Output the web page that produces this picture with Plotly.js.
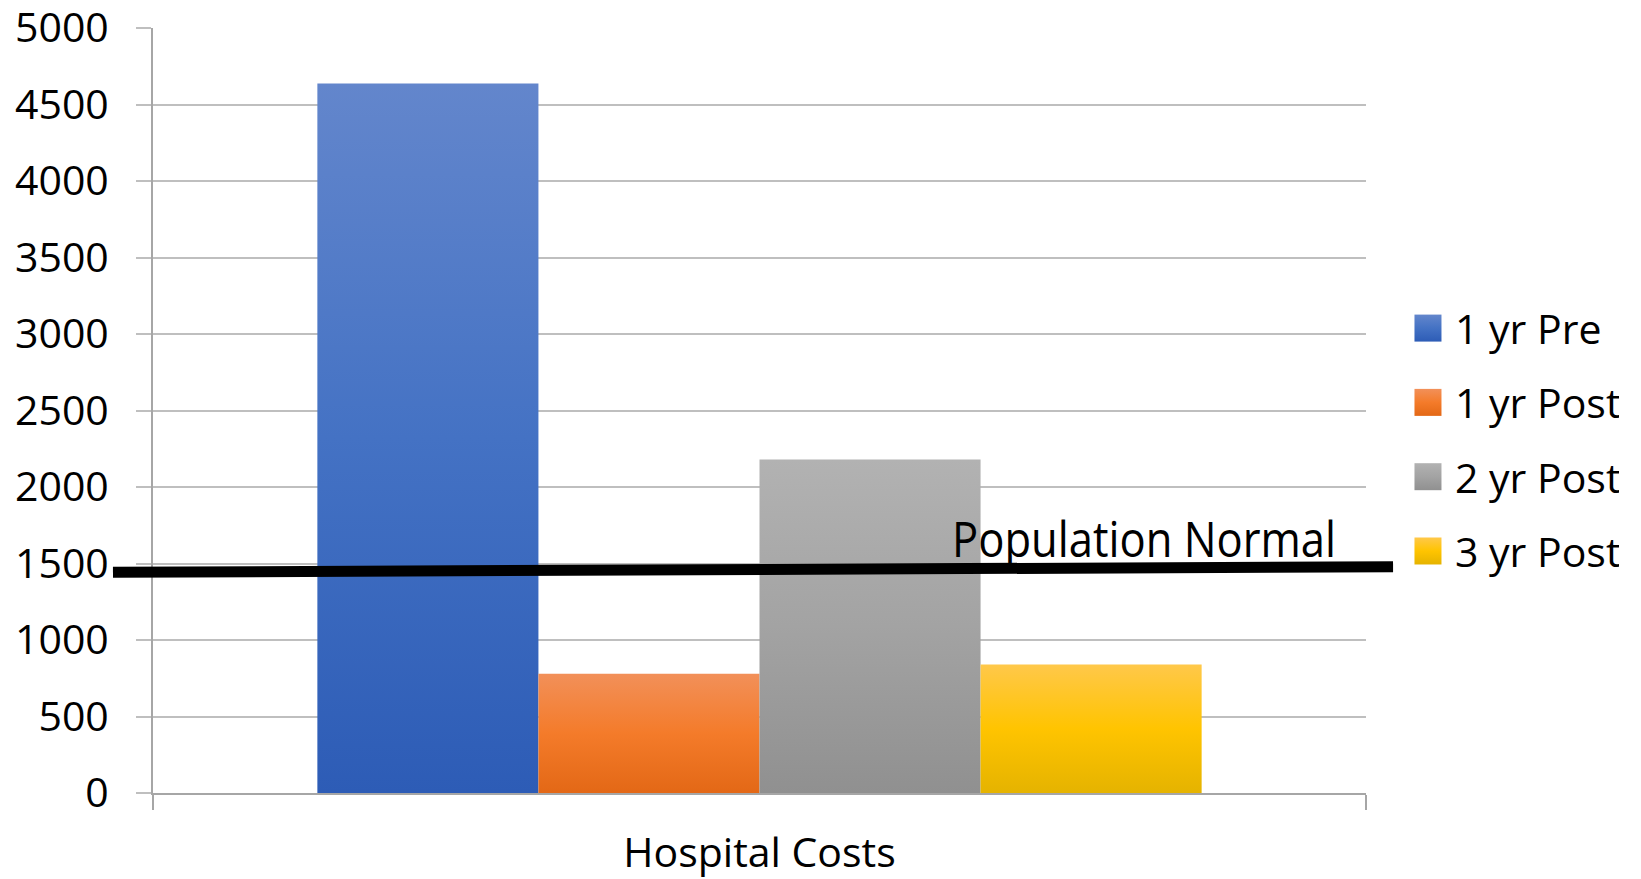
<!DOCTYPE html>
<html>
<head>
<meta charset="utf-8">
<script src="https://cdn.plot.ly/plotly-3.0.1.min.js"></script>
<style>
  html, body { margin: 0; padding: 0; background: #ffffff; }
  #chart { width: 1641px; height: 879px; }
</style>
</head>
<body>
<div id="chart"></div>
<script>
// Hospital costs before and after, compared with the population normal
const categories = ['Hospital Costs'];
const seriesNames = ['1 yr Pre', '1 yr Post', '2 yr Post', '3 yr Post'];
const oneYrPre = [4637];
const oneYrPost = [780];
const twoYrPost = [2180];
const threeYrPost = [840];
const populationNormal = [1442, 1479]; // value at left end, value at right end
const normalLabel = 'Population Normal';
const yTickValues = [0, 500, 1000, 1500, 2000, 2500, 3000, 3500, 4000, 4500, 5000];

const seriesValues = [oneYrPre, oneYrPost, twoYrPost, threeYrPost];
const baseColors = ['#4472C4', '#F47B2A', '#A3A3A3', '#FFC400'];
const gradientStops = [
  ['#6386CC', '#4472C4', '#2D5CB6'],
  ['#F29059', '#F47B2A', '#E36816'],
  ['#B2B2B2', '#A3A3A3', '#909090'],
  ['#FFC84A', '#FFC400', '#E5B300']
];

const FONT = 'Open Sans, Noto Sans, sans-serif';

const traces = seriesNames.map((name, i) => ({
  type: 'bar',
  name: name,
  x: categories,
  y: seriesValues[i],
  legendgroup: 'g' + i,
  marker: { color: baseColors[i], line: { width: 0 } },
  hoverinfo: 'name+y'
}));

const layout = {
  width: 1641,
  height: 879,
  margin: { l: 153, r: 275, t: 28, b: 86, pad: 0 },
  paper_bgcolor: '#ffffff',
  plot_bgcolor: '#ffffff',
  barmode: 'group',
  bargap: 0.271,
  bargroupgap: 0,
  font: { family: FONT, color: '#000000', size: 41 },
  xaxis: {
    type: 'category',
    range: [-0.5, 0.5],
    showgrid: false,
    zeroline: false,
    showline: true,
    linecolor: '#A6A6A6',
    linewidth: 2,
    ticks: 'outside',
    tickson: 'boundaries',
    ticklen: 15,
    tickwidth: 2,
    tickcolor: '#A6A6A6',
    ticklabelstandoff: 23,
    tickfont: { family: FONT, size: 41, color: '#000000' }
  },
  yaxis: {
    range: [0, 5000],
    tickmode: 'array',
    tickvals: yTickValues,
    ticktext: yTickValues.map(String),
    ticklabeloverflow: 'allow',
    showgrid: true,
    gridcolor: '#BFBFBF',
    gridwidth: 1.5,
    zeroline: false,
    showline: true,
    linecolor: '#A6A6A6',
    linewidth: 2,
    ticks: 'outside',
    ticklen: 15,
    tickwidth: 1.5,
    tickcolor: '#BFBFBF',
    ticklabelstandoff: 19,
    tickfont: { family: FONT, size: 41, color: '#000000' }
  },
  showlegend: true,
  legend: {
    xref: 'container',
    yref: 'container',
    x: 0.858,
    xanchor: 'left',
    y: 0.4995,
    yanchor: 'middle',
    tracegroupgap: 18,
    font: { family: FONT, size: 41, color: '#000000' },
    bgcolor: 'rgba(0,0,0,0)',
    borderwidth: 0
  },
  shapes: [{
    type: 'line',
    xref: 'paper',
    yref: 'y',
    x0: -0.033,
    x1: 1.0223,
    y0: populationNormal[0],
    y1: populationNormal[1],
    line: { color: '#000000', width: 11 },
    layer: 'above'
  }],
  annotations: [{
    xref: 'paper',
    yref: 'paper',
    x: 0.817,
    y: 0.333,
    xanchor: 'center',
    yanchor: 'middle',
    text: normalLabel,
    showarrow: false,
    font: { family: FONT, size: 49, color: '#000000' }
  }]
};

function addGradients(gd) {
  const svg = gd.querySelector('svg.main-svg');
  const ns = 'http://www.w3.org/2000/svg';
  let defs = svg.querySelector('defs');
  if (!defs) { defs = document.createElementNS(ns, 'defs'); svg.insertBefore(defs, svg.firstChild); }
  gradientStops.forEach((stops, i) => {
    const g = document.createElementNS(ns, 'linearGradient');
    g.setAttribute('id', 'barfill' + i);
    g.setAttribute('x1', '0'); g.setAttribute('y1', '0');
    g.setAttribute('x2', '0'); g.setAttribute('y2', '1');
    stops.forEach((c, k) => {
      const s = document.createElementNS(ns, 'stop');
      s.setAttribute('offset', String(k / (stops.length - 1)));
      s.setAttribute('stop-color', c);
      g.appendChild(s);
    });
    defs.appendChild(g);
  });
  gd.querySelectorAll('.barlayer .trace').forEach((tr, i) => {
    tr.querySelectorAll('path').forEach(p => { p.style.fill = 'url(#barfill' + i + ')'; });
  });
  gd.querySelectorAll('.legend .traces').forEach((tr, i) => {
    tr.querySelectorAll('.legendpoints path').forEach(p => {
      p.style.fill = 'url(#barfill' + i + ')';
      const t = p.getAttribute('transform') || '';
      p.setAttribute('transform', t + ' scale(2.25)');
    });
    const txt = tr.querySelector('text.legendtext');
    if (txt) {
      const x = parseFloat(txt.getAttribute('x') || '0');
      txt.setAttribute('x', String(x + 7));
    }
  });
  const label = gd.querySelector('.annotation-text-g text');
  if (label) {
    label.setAttribute('textLength', '384');
    label.setAttribute('lengthAdjust', 'spacingAndGlyphs');
  }
}

Plotly.newPlot('chart', traces, layout, { displayModeBar: false, responsive: false })
  .then(addGradients);
</script>
</body>
</html>
